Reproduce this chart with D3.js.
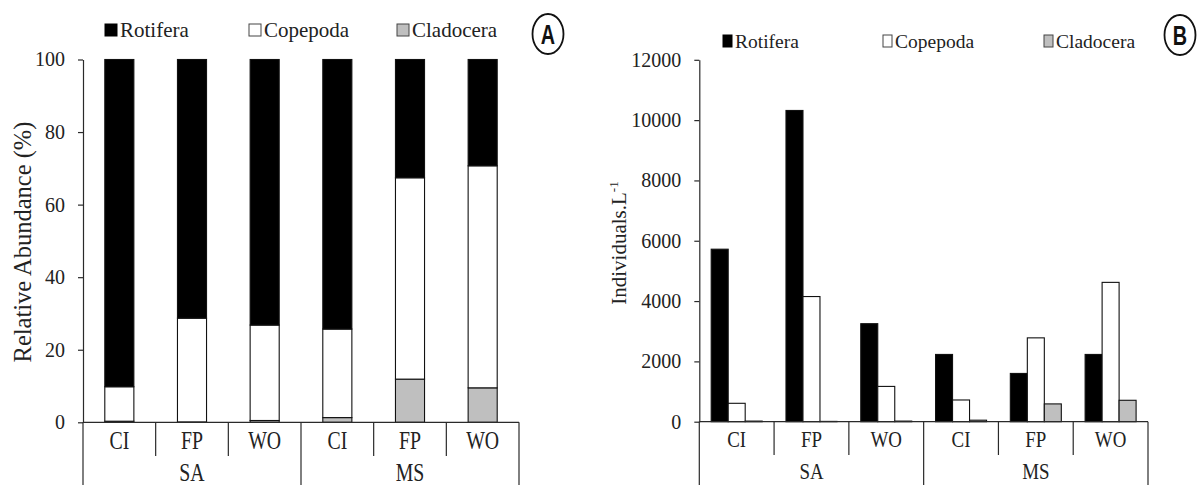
<!DOCTYPE html>
<html>
<head>
<meta charset="utf-8">
<script src="https://cdn.jsdelivr.net/npm/d3@7"></script>
<style>
  body { margin: 0; background: #fff; }
  svg text { font-family: "Liberation Serif", "DejaVu Serif", serif !important; fill: #222; }
  svg text.badge { font-family: "Liberation Sans", "DejaVu Sans", sans-serif !important; fill: #111; }
</style>
</head>
<body>
<svg id="chart" width="1200" height="485"></svg>
<script>
// categories
var sites = ["SA", "MS"]
var habitats = ["CI", "FP", "WO"]
var taxa = ["Rotifera", "Copepoda", "Cladocera"]
var categories = ["SA-CI", "SA-FP", "SA-WO", "MS-CI", "MS-FP", "MS-WO"]

// panel A : relative abundance (%)
var relRotifera = [90.2, 71.3, 73.2, 74.3, 32.6, 29.3]
var relCopepoda = [9.5, 28.6, 26.3, 24.4, 55.5, 61.2]
var relCladocera = [0.3, 0.1, 0.5, 1.3, 11.9, 9.5]
var relTicks = [0, 20, 40, 60, 80, 100]

// panel B : individuals per litre
var indRotifera = [5720, 10320, 3250, 2230, 1600, 2230]
var indCopepoda = [610, 4150, 1170, 720, 2780, 4620]
var indCladocera = [20, 10, 20, 50, 590, 710]
var indTicks = [0, 2000, 4000, 6000, 8000, 10000, 12000]

var color = d3.scaleOrdinal()
  .domain(taxa)
  .range(["#000000", "#ffffff", "#bfbfbf"])

var ink = "#2a2a2a"
var svg = d3.select("#chart")

// build rows from the arrays
function rowsFrom(a, b, c) {
  return categories.map(function(cat, i) {
    return { cat: cat, Rotifera: a[i], Copepoda: b[i], Cladocera: c[i] }
  })
}

// category axis with the two label rows (habitat / site)
function catAxis(x, y0, yShort, yLong, base1, base2, fs) {
  var g = svg.append("g")
  var bw = x.bandwidth()
  var r = x.range()
  g.append("line")
    .attr("x1", r[0]).attr("x2", r[1])
    .attr("y1", y0).attr("y2", y0)
    .attr("stroke", ink).attr("stroke-width", 1.2)
  var edges = categories.map(function(c, i) { return { x: x(c), long: i % 3 == 0 } })
  edges.push({ x: r[1], long: true })
  g.selectAll("line.div")
    .data(edges)
    .enter()
    .append("line")
      .attr("x1", function(d) { return d.x })
      .attr("x2", function(d) { return d.x })
      .attr("y1", y0)
      .attr("y2", function(d) { return d.long ? yLong : yShort })
      .attr("stroke", ink).attr("stroke-width", 1.2)
  g.selectAll("text.hab")
    .data(categories)
    .enter()
    .append("text")
      .attr("transform", function(d) { return "translate(" + (x(d) + bw / 2) + "," + base1 + ") scale(0.9,1.1)" })
      .attr("text-anchor", "middle")
      .style("font-size", fs + "px")
      .text(function(d) { return d.split("-")[1] })
  g.selectAll("text.site")
    .data(sites)
    .enter()
    .append("text")
      .attr("transform", function(d, i) { return "translate(" + (x(categories[i * 3]) + bw * 1.5) + "," + base2 + ") scale(0.9,1.1)" })
      .attr("text-anchor", "middle")
      .style("font-size", fs + "px")
      .text(function(d) { return d })
}

function valueAxis(y, x0, ticks, fs) {
  var g = svg.append("g")
    .attr("transform", "translate(" + x0 + ",0)")
    .call(d3.axisLeft(y).tickValues(ticks).tickFormat(d3.format("d")).tickSize(5).tickSizeOuter(0).tickPadding(13))
  g.select(".domain").attr("stroke", ink).attr("stroke-width", 1.2)
  g.selectAll(".tick line").attr("stroke", ink).attr("stroke-width", 1.2)
  g.selectAll(".tick text")
    .style("font-size", fs + "px")
    .attr("fill", "#222")
}

function legend(items, y, size, fs) {
  items.forEach(function(it) {
    svg.append("rect")
      .attr("x", it.x).attr("y", y - size[1])
      .attr("width", size[0]).attr("height", size[1])
      .attr("fill", color(it.key))
      .attr("stroke", it.key == "Rotifera" ? "#000" : "#444")
      .attr("stroke-width", 1)
    svg.append("text")
      .attr("x", it.x + size[0] + 3)
      .attr("y", y + 1)
      .style("font-size", fs + "px")
      .text(it.key)
  })
}

function badge(cx, cy, letter) {
  svg.append("ellipse")
    .attr("cx", cx).attr("cy", cy)
    .attr("rx", 15.5).attr("ry", 20)
    .attr("fill", "none").attr("stroke", "#111").attr("stroke-width", 1.8)
  svg.append("text")
    .attr("class", "badge")
    .attr("transform", "translate(" + cx + "," + (cy + 10) + ") scale(0.9,1.25)")
    .attr("text-anchor", "middle")
    .style("font-weight", "bold")
    .style("font-size", "22px")
    .text(letter)
}

// ---------- panel A ----------
var xA = d3.scaleBand().domain(categories).range([83, 519])
var yA = d3.scaleLinear().domain([0, 100]).range([422.3, 59.5])

var stackA = d3.stack().keys(["Cladocera", "Copepoda", "Rotifera"])(rowsFrom(relRotifera, relCopepoda, relCladocera))

svg.append("g").selectAll("g")
  .data(stackA)
  .enter()
  .append("g")
    .attr("fill", function(d) { return color(d.key) })
  .selectAll("rect")
  .data(function(d) { return d })
  .enter()
  .append("rect")
    .attr("x", function(d) { return xA(d.data.cat) + xA.bandwidth() * 0.3 })
    .attr("width", xA.bandwidth() * 0.4)
    .attr("y", function(d) { return yA(d[1]) })
    .attr("height", function(d) { return yA(d[0]) - yA(d[1]) })
    .attr("stroke", "#111")
    .attr("stroke-width", 1.1)

valueAxis(yA, 83, relTicks, 20)
catAxis(xA, 422.3, 456, 486, 449, 481, 22)

svg.append("text")
  .attr("transform", "translate(31,242) rotate(-90)")
  .attr("text-anchor", "middle")
  .style("font-size", "24.5px")
  .text("Relative Abundance (%)")

legend([{ key: "Rotifera", x: 105 }, { key: "Copepoda", x: 249 }, { key: "Cladocera", x: 397 }], 36, [12, 12], 21)
badge(548, 34, "A")

// ---------- panel B ----------
var x0B = d3.scaleBand().domain(categories).range([699.3, 1148])
var x1B = d3.scaleBand().domain(taxa).range([0, x0B.bandwidth()]).paddingInner(0).paddingOuter(0.7)
var yB = d3.scaleLinear().domain([0, 12000]).range([421.7, 59.8])

var rowsB = rowsFrom(indRotifera, indCopepoda, indCladocera)

svg.append("g").selectAll("g")
  .data(rowsB)
  .enter()
  .append("g")
    .attr("transform", function(d) { return "translate(" + x0B(d.cat) + ",0)" })
  .selectAll("rect")
  .data(function(d) { return taxa.map(function(k) { return { key: k, value: d[k] } }) })
  .enter()
  .append("rect")
    .attr("x", function(d) { return x1B(d.key) })
    .attr("width", x1B.bandwidth())
    .attr("y", function(d) { return yB(d.value) })
    .attr("height", function(d) { return yB(0) - yB(d.value) })
    .attr("fill", function(d) { return color(d.key) })
    .attr("stroke", "#111")
    .attr("stroke-width", 1.1)

valueAxis(yB, 699.3, indTicks, 20)
catAxis(x0B, 421.7, 455, 486, 447, 479, 21)

var tB = svg.append("text")
  .attr("transform", "translate(626,243) rotate(-90)")
  .attr("text-anchor", "middle")
  .style("font-size", "21px")
tB.append("tspan").text("Individuals.L")
tB.append("tspan").attr("dy", -8).style("font-size", "13px").text("-1")

legend([{ key: "Rotifera", x: 723 }, { key: "Copepoda", x: 883 }, { key: "Cladocera", x: 1044 }], 47, [9, 12], 19.5)
badge(1180, 35, "B")
</script>
</body>
</html>
